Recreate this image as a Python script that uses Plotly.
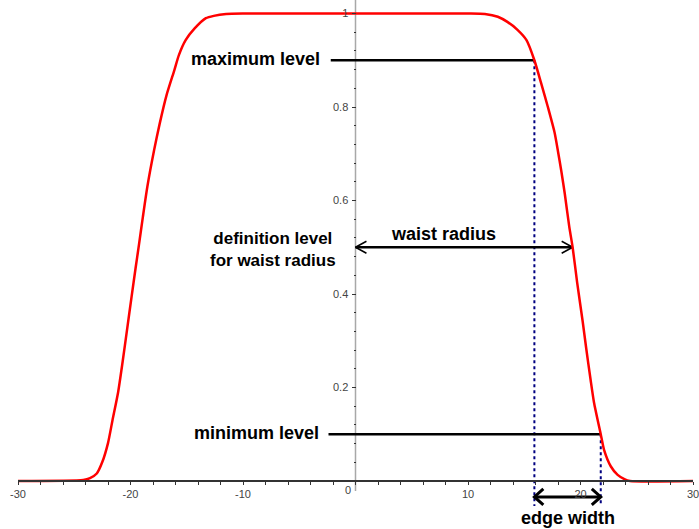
import plotly.graph_objects as go

# Flat-top beam profile
profile_x = [-30, -24.2, -23.6, -23.0, -22.5, -22.0, -21.6, -21.1, -20.7, -20.3,
             -19.9, -19.55, -19.25, -18.9, -18.5, -17.9, -17.4, -16.8, -16.1, -15.7,
             -15.1, -14.3, -13.3, -12.6, -11.5, -10, 0, 10, 11.5, 12.65,
             13.5, 14.4, 15.2, 15.9, 16.5, 17.1, 17.7, 18.0, 18.3, 18.6,
             19.0, 19.3, 19.7, 20.2, 20.5, 20.9, 21.2, 21.8, 22.1, 22.7,
             23.3, 23.9, 24.4, 30]
profile_y = [0, 0.002, 0.006, 0.016, 0.041, 0.081, 0.13, 0.19, 0.255, 0.325,
             0.395, 0.455, 0.505, 0.565, 0.630, 0.708, 0.765, 0.825, 0.879, 0.911,
             0.943, 0.968, 0.990, 0.995, 0.999, 1, 1, 1, 0.999, 0.993,
             0.982, 0.965, 0.943, 0.9, 0.851, 0.80, 0.745, 0.705, 0.662, 0.615,
             0.544, 0.5, 0.425, 0.34, 0.285, 0.216, 0.168, 0.1, 0.066, 0.031,
             0.013, 0.004, 0, 0]

# Levels and the radii where the profile crosses them
max_level = 0.9
def_level = 0.5
min_level = 0.1
x_at_max = 15.9
waist_radius = 19.3
x_at_min = 21.8
max_line_start = -2.2
min_line_start = -2.4

# Axis ticks
x_ticks = [-30, -20, -10, 10, 20, 30]
x_tick_text = ["-30", "-20", "-10", "10", "20", "30"]
y_ticks = [0.2, 0.4, 0.6, 0.8, 1]
y_tick_text = ["0.2", "0.4", "0.6", "0.8", "1"]
y_minor = [0.04, 0.08, 0.12, 0.16, 0.24, 0.28, 0.32, 0.36, 0.44, 0.48, 0.52,
           0.56, 0.64, 0.68, 0.72, 0.76, 0.84, 0.88, 0.92, 0.96]

# Figure geometry
W, H = 699, 529
ML, MR, MT, MB = 18, 3, 0, 0
x_range = [-30, 30]
y_range = [-0.1027, 1.0289]
ux = (x_range[1] - x_range[0]) / (W - ML - MR)   # data units per pixel (x)
uy = (y_range[1] - y_range[0]) / (H - MT - MB)   # data units per pixel (y)

edge_arrow_y = -16 * uy
dotted_bottom = -25 * uy

BLACK = "#000000"
NAVY = "#000080"
RED = "#ff0000"
FONT = "Arial"

fig = go.Figure()


def seg(xs, ys, color, width, dash=None):
    fig.add_trace(go.Scatter(x=xs, y=ys, mode="lines", hoverinfo="skip",
                             line=dict(color=color, width=width, dash=dash),
                             showlegend=False))


def chevron(x_tip, y_tip, direction, length_px, half_px, width):
    dx = direction * length_px * ux
    dy = half_px * uy
    seg([x_tip - dx, x_tip, x_tip - dx], [y_tip + dy, y_tip, y_tip - dy],
        BLACK, width)


# vertical axis through the origin
seg([0, 0], [-10 * uy, y_range[1]], "#a8a8a8", 1.5)

# dotted guides marking the edge width
seg([x_at_max, x_at_max], [max_level, dotted_bottom], NAVY, 2, "dot")
seg([x_at_min, x_at_min], [min_level, dotted_bottom], NAVY, 2, "dot")

# maximum / minimum level lines
seg([max_line_start, x_at_max], [max_level, max_level], BLACK, 2.5)
seg([min_line_start, x_at_min], [min_level, min_level], BLACK, 2.5)

# waist radius arrow
seg([0, waist_radius], [def_level, def_level], BLACK, 2.5)
chevron(0, def_level, -1, 11, 6, 1.5)
chevron(waist_radius, def_level, 1, 11, 6, 1.5)

# edge width arrow
seg([x_at_max, x_at_min], [edge_arrow_y, edge_arrow_y], BLACK, 3)
chevron(x_at_max, edge_arrow_y, -1, 9, 8, 3)
chevron(x_at_min, edge_arrow_y, 1, 9, 8, 3)

# the profile itself
fig.add_trace(go.Scatter(x=profile_x, y=profile_y, mode="lines",
                         line=dict(color=RED, width=2.5, shape="spline",
                                   smoothing=0.6),
                         hoverinfo="skip", showlegend=False))

label_font = dict(family=FONT, size=18, color=BLACK)
annotations = [
    dict(x=max_line_start - 0.8, y=max_level, text="<b>maximum level</b>",
         xanchor="right", yanchor="middle", yshift=1),
    dict(x=min_line_start - 0.7, y=min_level, text="<b>minimum level</b>",
         xanchor="right", yanchor="middle", yshift=1),
    dict(x=-7.3, y=def_level,
         text="<b>definition level<br>for waist radius</b>",
         xanchor="center", yanchor="middle", yshift=-2,
         font=dict(family=FONT, size=17, color=BLACK)),
    dict(x=3.0, y=def_level, text="<b>waist radius</b>",
         xanchor="left", yanchor="middle", yshift=13),
    dict(x=(x_at_max + x_at_min) / 2, y=edge_arrow_y, text="<b>edge width</b>",
         xanchor="center", yanchor="middle", yshift=-21),
]
for a in annotations:
    a.setdefault("font", label_font)
    a.update(xref="x", yref="y", showarrow=False)
# origin label
annotations.append(dict(x=0, y=0, xref="x", yref="y", text="0",
                        showarrow=False, xanchor="right", yanchor="top",
                        xshift=-3, yshift=-1,
                        font=dict(family=FONT, size=11, color="#444444")))

tick_font = dict(family=FONT, size=11, color="#444444")
fig.update_layout(
    width=W, height=H,
    margin=dict(l=ML, r=MR, t=MT, b=MB, pad=0),
    paper_bgcolor="white", plot_bgcolor="white",
    annotations=annotations,
    xaxis=dict(range=x_range, anchor="free",
               position=(0 - y_range[0]) / (y_range[1] - y_range[0]),
               showgrid=False, zeroline=False,
               showline=True, linecolor="#333333", linewidth=1.5,
               tickmode="array", tickvals=x_ticks, ticktext=x_tick_text,
               ticks="outside", ticklen=3, tickcolor="#333333", tickwidth=1,
               tickfont=tick_font, ticklabelstandoff=0,
               ticklabeloverflow="allow",
               minor=dict(dtick=2, tick0=0, ticks="outside", ticklen=3,
                          tickcolor="#333333")),
    yaxis=dict(range=y_range, anchor="free", position=0.5,
               showgrid=False, zeroline=False, showline=False,
               tickmode="array", tickvals=y_ticks, ticktext=y_tick_text,
               ticks="outside", ticklen=4, tickcolor="#333333", tickwidth=1,
               tickfont=tick_font, ticklabelstandoff=1,
               minor=dict(tickmode="array", tickvals=y_minor, ticks="outside",
                          ticklen=2, tickcolor="#333333")),
)

fig.write_html("out.html")
